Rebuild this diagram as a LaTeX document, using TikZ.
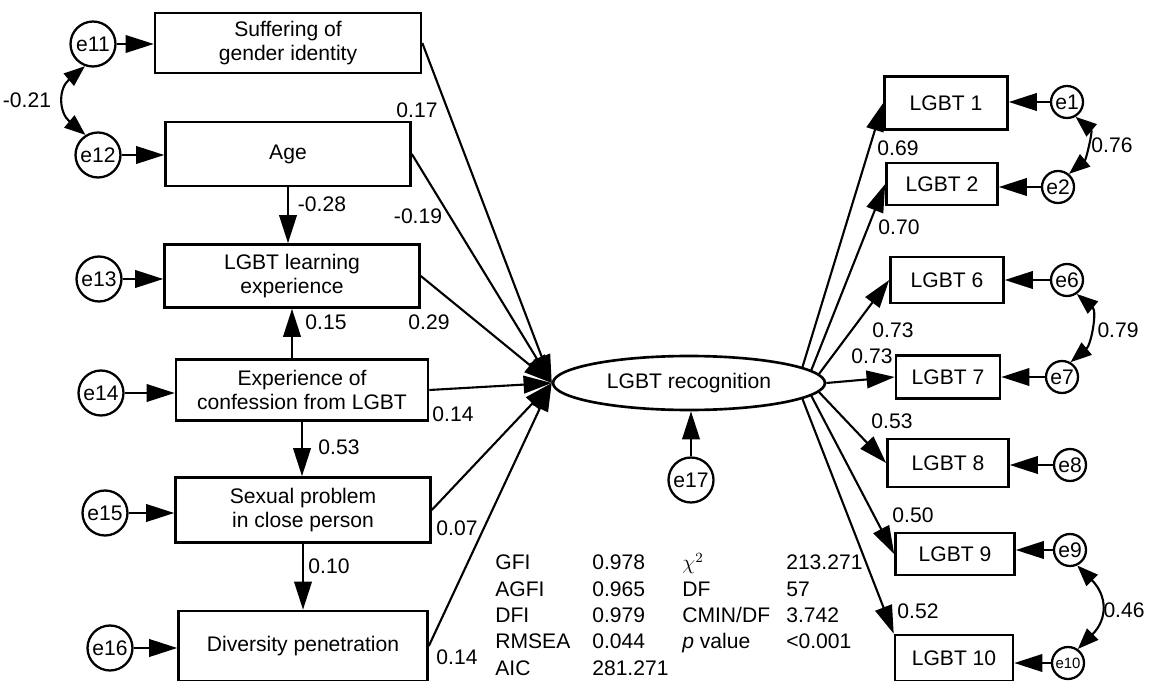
\documentclass[tikz,border=0pt]{standalone}
\usepackage{fontspec}
\setmainfont{Liberation Sans}
\usetikzlibrary{shapes.geometric,arrows.meta}
\tikzset{
  var/.style={draw, line width=1.5pt, align=center, inner sep=2pt},
  lat/.style={draw, ellipse, line width=1.5pt, minimum width=5.44cm, minimum height=1.08cm},
  err/.style={draw, circle, line width=1.3pt, inner sep=0pt, minimum size=0.9cm},
  erb/.style={err, minimum size=0.64cm},
  arr/.style={-{Triangle[length=16pt,width=10pt]}, line width=1.2pt},
  cov/.style={{Triangle[length=12pt,width=9pt]}-{Triangle[length=12pt,width=9pt]}, line width=1.2pt},
}
\begin{document}
\begin{tikzpicture}[x=0.02cm, y=0.02cm, font=\fontsize{12}{14}\selectfont]
            \useasboundingbox (0,0) rectangle (1152,680);
            % left side
            \node[var, minimum width=5.32cm, minimum height=1.2cm] (suff) at (288,637) {Suffering of\\gender identity};
            \node[var, minimum width=4.9cm, minimum height=1.28cm] (age) at (288,526) {Age};
            \node[var, minimum width=5.1cm, minimum height=1.26cm] (learn) at (292,404) {LGBT learning\\experience};
            \node[var, minimum width=5.04cm, minimum height=1.22cm] (conf) at (302,290) {Experience of\\confession from LGBT};
            \node[var, minimum width=5.1cm, minimum height=1.3cm] (sexp) at (303,170) {Sexual problem\\in close person};
            \node[var, minimum width=4.98cm, minimum height=1.4cm] (div) at (303,34) {Diversity penetration};
            \node[err] (e11) at (93,636) {e11};
            \node[err] (e12) at (98,525) {e12};
            \node[err] (e13) at (99,401) {e13};
            \node[err] (e14) at (101,287) {e14};
            \node[err] (e15) at (105,167) {e15};
            \node[err] (e16) at (110,32) {e16};
            \draw[arr] (e11) -- (e11 -| suff.west);
            \draw[arr] (e12) -- (e12 -| age.west);
            \draw[arr] (e13) -- (e13 -| learn.west);
            \draw[arr] (e14) -- (e14 -| conf.west);
            \draw[arr] (e15) -- (e15 -| sexp.west);
            \draw[arr] (e16) -- (e16 -| div.west);
            \draw[cov, looseness=1.3] (e11.250) to[out=220, in=140] (e12.122);
            \draw[arr] (age.south) -- (age.south |- learn.north);
            \draw[arr] (learn.south |- conf.north) -- (learn.south);
            \draw[arr] (conf.south) -- (conf.south |- sexp.north);
            \draw[arr] (sexp.south) -- (sexp.south |- div.north);
            % LGBT recognition
            \node[lat] (rec) at (689,297) {LGBT recognition};
            \node[err] (e17) at (691,200) {e17};
            \draw[arr] (e17) -- (e17 |- rec.south);
            \foreach \b in {suff,age,learn,conf,sexp,div}
                \draw[arr] (\b.east) -- (rec.west);
            % right side
            \node[var, minimum width=2.46cm, minimum height=1.06cm] (L1) at (946,577) {LGBT 1};
            \node[var, minimum width=2.22cm, minimum height=0.84cm] (L2) at (942,496) {LGBT 2};
            \node[var, minimum width=2.26cm, minimum height=0.92cm] (L6) at (947,400) {LGBT 6};
            \node[var, minimum width=2.08cm, minimum height=0.86cm] (L7) at (948,303) {LGBT 7};
            \node[var, minimum width=2.42cm, minimum height=0.96cm] (L8) at (948,217) {LGBT 8};
            \node[var, minimum width=2.38cm, minimum height=0.84cm] (L9) at (955,126) {LGBT 9};
            \node[var, minimum width=2.36cm, minimum height=0.92cm] (L10) at (954,22) {LGBT 10};
            \node[erb] (e1) at (1067,578) {e1};
            \node[erb] (e2) at (1058,493) {e2};
            \node[erb] (e6) at (1067,400) {e6};
            \node[erb] (e7) at (1062,303) {e7};
            \node[erb] (e8) at (1070,215) {e8};
            \node[erb] (e9) at (1070,130) {e9};
            \node[erb, font=\fontsize{8.5}{10}\selectfont] (e10) at (1068,17) {e10};
            \foreach \a/\b in {8/L1, 6/L2, 4/L6, 0/L7, -4/L8, -6/L9}
                \draw[arr] (rec.\a) -- (\b.west);
            \draw[arr] (rec.-8) -- (L10.north west);
            \foreach \e/\b in {e1/L1, e2/L2, e6/L6, e7/L7, e8/L8, e9/L9, e10/L10}
                \draw[arr] (\e) -- (\e -| \b.east);
            \draw[cov] (e1.-60) to[out=-40, in=40] (e2.50);
            \draw[cov] (e6.-55) to[out=-40, in=40] (e7.60);
            \draw[cov, looseness=1.3] (e9.-65) to[out=-45, in=45] (e10.55);
            % coefficients
            \node (w1) at (27,580) {-0.21};
            \node (w2) at (417,570) {0.17};
            \node (w3) at (418,464) {-0.19};
            \node (w4) at (322,476) {-0.28};
            \node (w5) at (429,358) {0.29};
            \node (w6) at (326,358) {0.15};
            \node (w7) at (453,266) {0.14};
            \node (w8) at (339,233) {0.53};
            \node (w9) at (457,152) {0.07};
            \node (w10) at (329,114) {0.10};
            \node (w11) at (457,23) {0.14};
            \node (w12) at (898,532) {0.69};
            \node (w13) at (899,453) {0.70};
            \node (w14) at (893,350) {0.73};
            \node (w15) at (872,324) {0.73};
            \node (w16) at (892,259) {0.53};
            \node (w17) at (913,165) {0.50};
            \node (w18) at (918,69) {0.52};
            \node (w19) at (1112,535) {0.76};
            \node (w20) at (1118,350) {0.79};
            \node (w21) at (1124,70) {0.46};
            % fit indices
            \node[anchor=north west, inner sep=0pt] (fit) at (495,129) {\fontsize{12}{15}\selectfont\setlength{\tabcolsep}{0pt}%
                \begin{tabular}{p{1.94cm}p{1.8cm}p{2.08cm}l}
                GFI & 0.978 & $\chi^2$ & 213.271\\
                AGFI & 0.965 & DF & 57\\
                DFI & 0.979 & CMIN/DF & 3.742\\
                RMSEA & 0.044 & \textit{p} value & <0.001\\
                AIC & 281.271 & & \\
                \end{tabular}};
\end{tikzpicture}
\end{document}
